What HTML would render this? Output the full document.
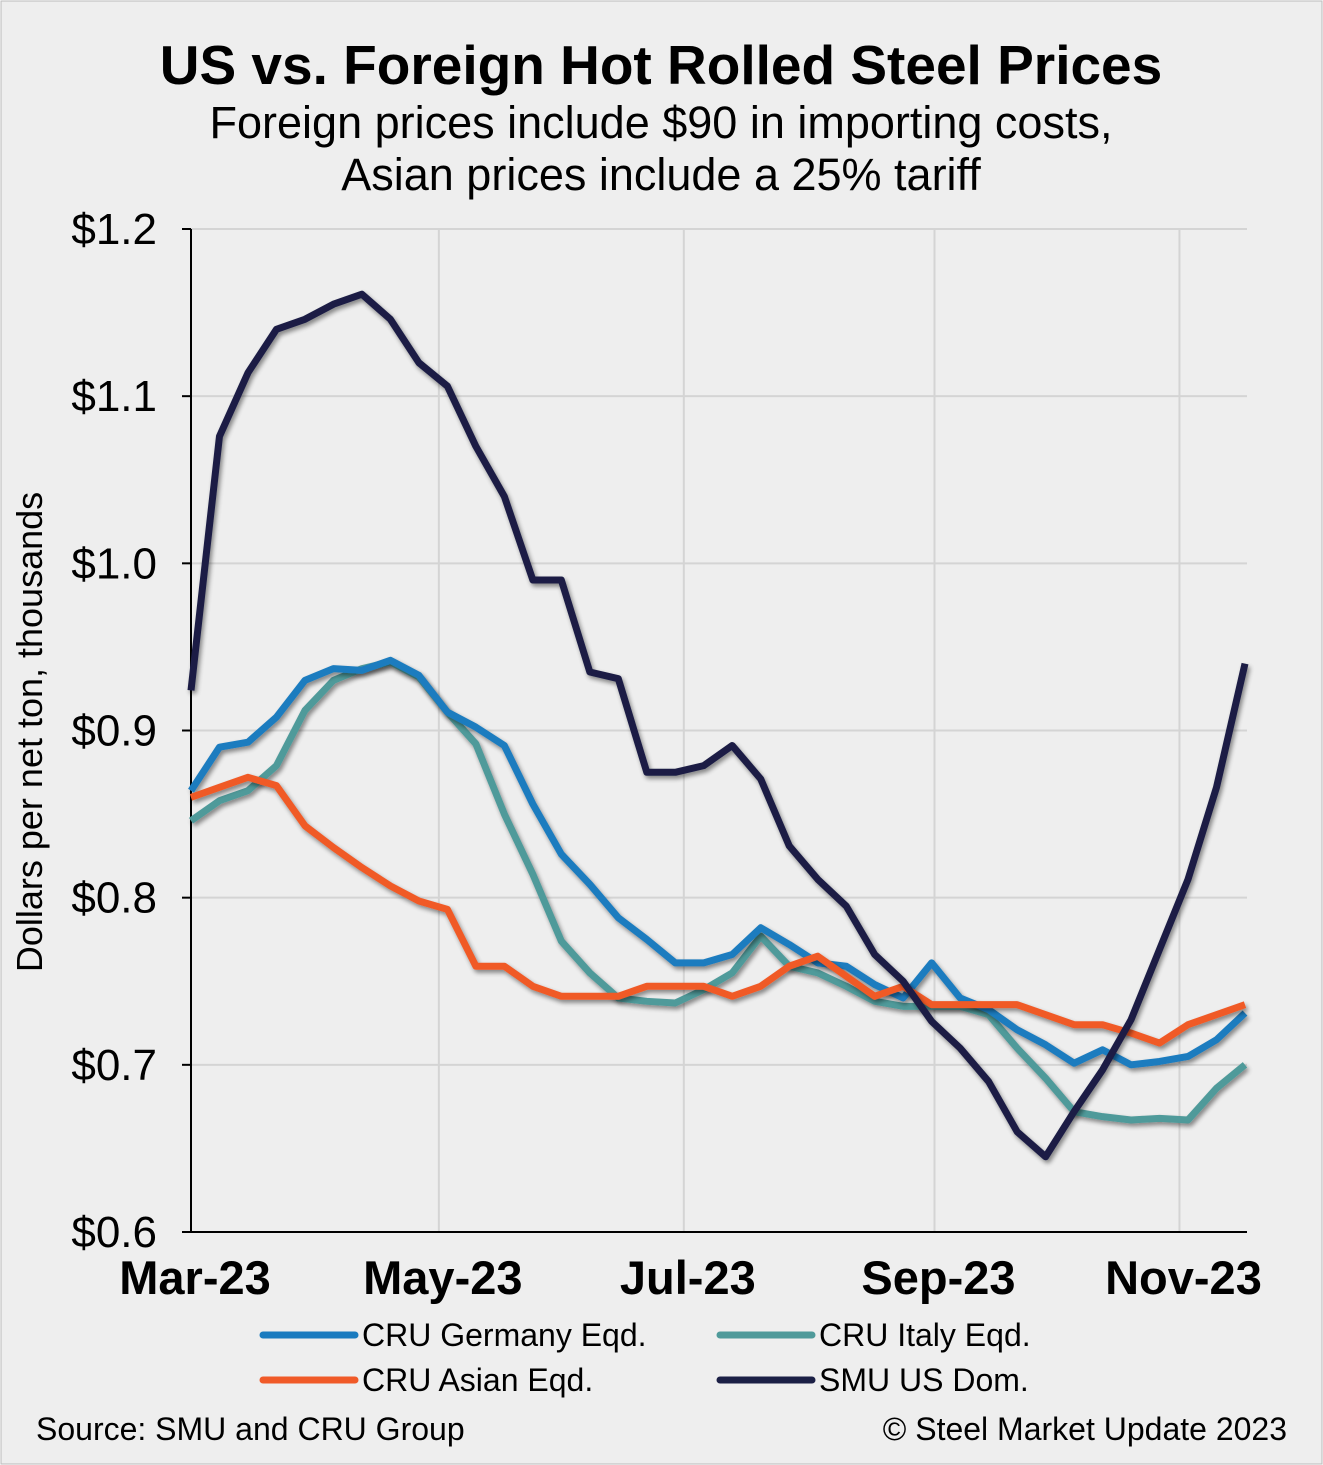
<!DOCTYPE html>
<html><head><meta charset="utf-8"><style>
html,body{margin:0;padding:0;background:#fff}
svg{display:block;font-family:"Liberation Sans",Arial,sans-serif}
</style></head><body>
<svg id="chart" width="1323" height="1465" viewBox="0 0 1323 1465">
<defs><filter id="sh" x="-5%" y="-5%" width="110%" height="110%"><feGaussianBlur in="SourceAlpha" stdDeviation="2.5"/><feOffset dx="2" dy="3"/><feComponentTransfer><feFuncA type="linear" slope="0.45"/></feComponentTransfer><feMerge><feMergeNode/><feMergeNode in="SourceGraphic"/></feMerge></filter></defs>
<rect x="1" y="1" width="1321" height="1463" fill="#eeeeee" stroke="#bbb"/>
<text x="661" y="84" text-anchor="middle" font-size="55" font-weight="bold">US vs. Foreign Hot Rolled Steel Prices</text>
<text x="661" y="138" text-anchor="middle" font-size="45">Foreign prices include $90 in importing costs,</text>
<text x="661" y="190" text-anchor="middle" font-size="45">Asian prices include a 25% tariff</text>
<text transform="translate(42,732) rotate(-90)" text-anchor="middle" font-size="36">Dollars per net ton, thousands</text>
<g id="grid"></g><g id="axes"></g><g id="series"></g>
<g>
<line x1="263" y1="1335" x2="355" y2="1335" stroke="#1a7bbf" stroke-width="7" stroke-linecap="round"/>
<text x="362" y="1346" font-size="32">CRU Germany Eqd.</text>
<line x1="720" y1="1335" x2="812" y2="1335" stroke="#4f9a9a" stroke-width="7" stroke-linecap="round"/>
<text x="819" y="1346" font-size="32">CRU Italy Eqd.</text>
<line x1="263" y1="1380" x2="355" y2="1380" stroke="#f05a28" stroke-width="7" stroke-linecap="round"/>
<text x="362" y="1391" font-size="32">CRU Asian Eqd.</text>
<line x1="720" y1="1380" x2="812" y2="1380" stroke="#1b1f45" stroke-width="7" stroke-linecap="round"/>
<text x="819" y="1391" font-size="32">SMU US Dom.</text>
</g>
<text x="36" y="1440" font-size="32">Source: SMU and CRU Group</text>
<text x="1287" y="1440" text-anchor="end" font-size="32">© Steel Market Update 2023</text>
</svg>
<script>
const yTicks=[0.6,0.7,0.8,0.9,1.0,1.1,1.2];
const yTickLabels=["$0.6","$0.7","$0.8","$0.9","$1.0","$1.1","$1.2"];
const monthIdx=[0,8.7,17.3,26.1,34.7];
const monthLabels=["Mar-23","May-23","Jul-23","Sep-23","Nov-23"];
const smu=[0.924,1.076,1.114,1.140,1.146,1.155,1.161,1.146,1.120,1.106,1.070,1.040,0.990,0.990,0.935,0.931,0.875,0.875,0.879,0.891,0.871,0.831,0.811,0.795,0.766,0.750,0.726,0.710,0.690,0.660,0.645,0.672,0.697,0.727,0.769,0.811,0.866,0.940];
const germany=[0.864,0.890,0.893,0.908,0.930,0.937,0.936,0.942,0.933,0.911,0.902,0.891,0.856,0.826,0.808,0.788,0.775,0.761,0.761,0.766,0.782,0.772,0.761,0.759,0.748,0.740,0.761,0.740,0.733,0.721,0.712,0.701,0.709,0.700,0.702,0.705,0.715,0.731];
const italy=[0.846,0.858,0.864,0.879,0.912,0.930,0.937,0.941,0.932,0.911,0.892,0.850,0.814,0.774,0.755,0.740,0.738,0.737,0.745,0.755,0.777,0.759,0.755,0.747,0.738,0.735,0.735,0.735,0.730,0.710,0.692,0.672,0.669,0.667,0.668,0.667,0.686,0.700];
const asian=[0.860,0.866,0.872,0.867,0.843,0.830,0.818,0.807,0.798,0.793,0.759,0.759,0.747,0.741,0.741,0.741,0.747,0.747,0.747,0.741,0.747,0.759,0.765,0.753,0.741,0.747,0.736,0.736,0.736,0.736,0.730,0.724,0.724,0.719,0.713,0.724,0.730,0.736];
const NS="http://www.w3.org/2000/svg";
const L=191,R=1247,T=229,B=1232;
const x=i=>L+i*(1245-L)/37;
const y=v=>B-(v-0.6)/0.6*(B-T);
function mk(tag,attrs,parent,text){const e=document.createElementNS(NS,tag);for(const k in attrs)e.setAttribute(k,attrs[k]);if(text!==undefined)e.textContent=text;parent.appendChild(e);return e;}
const grid=document.getElementById('grid'),axes=document.getElementById('axes'),ser=document.getElementById('series');
yTicks.forEach((v,i)=>{
 if(i>0){const g=mk('line',{x1:L,x2:R,y1:y(v),y2:y(v),stroke:'#d4d4d4','stroke-width':2},grid);
 
 }
 mk('line',{x1:L-9,x2:L,y1:y(v),y2:y(v),stroke:'#000','stroke-width':2},axes);
 const t=mk('text',{x:L-34,y:y(v)+15,'text-anchor':'end','font-size':44},axes,yTickLabels[i]);
 
 
});
monthIdx.forEach((m,i)=>{
 if(i>0){const g=mk('line',{x1:x(m),x2:x(m),y1:T,y2:B,stroke:'#d4d4d4','stroke-width':2},grid);
 
 }
 const t=mk('text',{x:x(m)+4,y:1294,'text-anchor':'middle','font-size':47,'font-weight':'bold'},axes,monthLabels[i]);
 
 
});
mk('line',{x1:L,x2:L,y1:T,y2:B,stroke:'#000','stroke-width':2},axes);
mk('line',{x1:L,x2:R,y1:B,y2:B,stroke:'#000','stroke-width':2},axes);
[[italy,'#4f9a9a','italy-line'],[germany,'#1a7bbf','germany-line'],[asian,'#f05a28','asian-line'],[smu,'#1b1f45','smu-line']].forEach(([d,c,n])=>{
 const p=mk('polyline',{points:d.map((v,i)=>x(i)+','+y(v)).join(' '),fill:'none',stroke:c,'stroke-width':7,'stroke-linejoin':'round',filter:'url(#sh)'},ser);
 
 
});
</script>
</body></html>
